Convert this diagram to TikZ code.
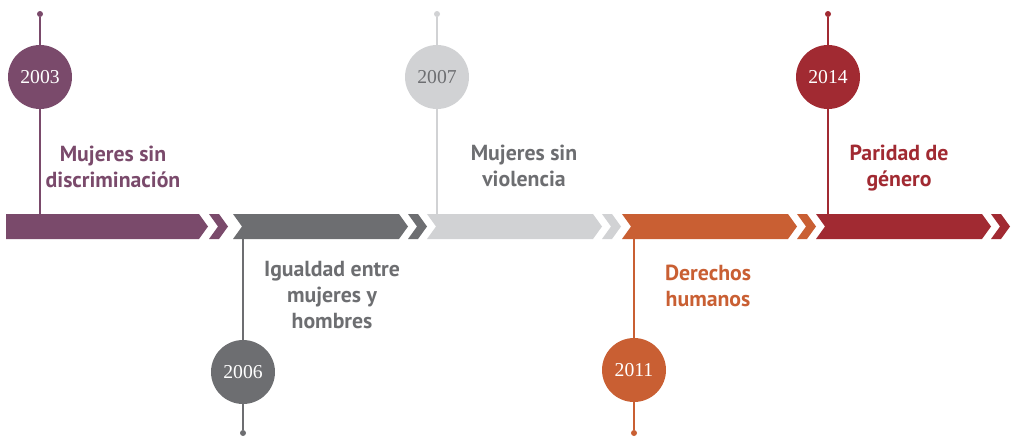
\documentclass[tikz,border=0pt]{standalone}
\usepackage{fontspec}
\setmainfont{Liberation Serif}
\newfontfamily\labelfont{PT Sans}
\usepackage{tikz}
\usetikzlibrary{positioning}

\definecolor{tlpurple}{HTML}{7A4A6B}
\definecolor{tlgray}{HTML}{6D6E71}
\definecolor{tllight}{HTML}{D1D2D4}
\definecolor{tlorange}{HTML}{C95F33}
\definecolor{tlred}{HTML}{A12A32}

\begin{document}
\begin{tikzpicture}[
    x=0.02cm, y=-0.02cm,
    year/.style={circle, minimum size=1.28cm, inner sep=0pt, text=white, font=\fontsize{11.2}{13}\selectfont},
    dot/.style={circle, minimum size=0.12cm, inner sep=0pt},
    stem/.style={line width=0.9pt},
    lbl/.style={align=center, font=\labelfont\bfseries\fontsize{12.4}{14.8}\selectfont},
]
    \useasboundingbox (0,0) rectangle (1013,436);

    % band
    \fill[tlpurple] (6,214) -- (199,214) -- ++(9,12.5) -- ++(-9,12.5) -- (6,239) -- cycle;
    \fill[tlpurple] (209,214) -- ++(10,0) -- ++(9,12.5) -- ++(-9,12.5) -- ++(-10,0) -- ++(9,-12.5) -- cycle;
    \foreach \s/\c in {233/tlgray, 427/tllight, 622/tlorange, 816/tlred} {
        \fill[\c] (\s,214) -- ++(166,0) -- ++(9,12.5) -- ++(-9,12.5) -- (\s,239) -- ++(9,-12.5) -- cycle;
        \fill[\c] (\s+175,214) -- ++(10,0) -- ++(9,12.5) -- ++(-9,12.5) -- ++(-10,0) -- ++(9,-12.5) -- cycle;
    }

    \node[dot, fill=tlpurple] (d2003) at (40,14) {};
    \node[year, fill=tlpurple] (c2003) at (40,77) {2003};
    \coordinate (b2003) at (40,214);
    \node[dot, fill=tlgray] (d2006) at (243,433) {};
    \node[year, fill=tlgray] (c2006) at (243,372) {2006};
    \coordinate (b2006) at (243,239);
    \node[dot, fill=tllight] (d2007) at (437,14) {};
    \node[year, fill=tllight, text=tlgray] (c2007) at (437,77) {2007};
    \coordinate (b2007) at (437,214);
    \node[dot, fill=tlorange] (d2011) at (634,433) {};
    \node[year, fill=tlorange] (c2011) at (634,370) {2011};
    \coordinate (b2011) at (634,239);
    \node[dot, fill=tlred] (d2014) at (828,14) {};
    \node[year, fill=tlred] (c2014) at (828,77) {2014};
    \coordinate (b2014) at (828,214);

    \draw[stem, tlpurple] (d2003) -- (c2003) -- (b2003);
    \draw[stem, tlgray] (d2006) -- (c2006) -- (b2006);
    \draw[stem, tllight] (d2007) -- (c2007) -- (b2007);
    \draw[stem, tlorange] (d2011) -- (c2011) -- (b2011);
    \draw[stem, tlred] (d2014) -- (c2014) -- (b2014);

    \node[lbl, text=tlpurple] (l2003) at (113,167) {Mujeres sin\\discriminación};
    \node[lbl, text=tlgray] (l2006) at (332,295) {Igualdad entre\\mujeres y\\hombres};
    \node[lbl, text=tlgray] (l2007) at (524,166) {Mujeres sin\\violencia};
    \node[lbl, text=tlorange] (l2011) at (708,286) {Derechos\\humanos};
    \node[lbl, text=tlred] (l2014) at (899,168) {Paridad de\\género};
\end{tikzpicture}
\end{document}
